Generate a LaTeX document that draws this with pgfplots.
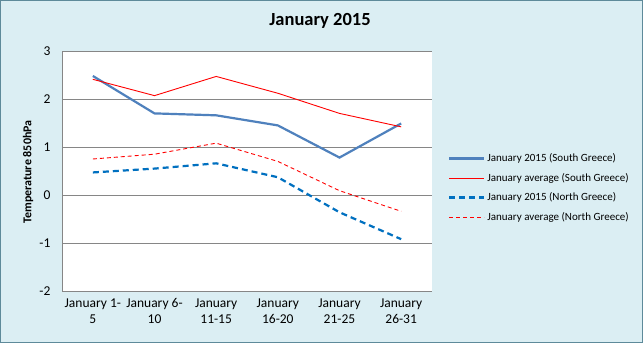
\documentclass[border=0pt]{standalone}
\usepackage{pgfplots}
\pgfplotsset{compat=1.18}
\usepackage{fontspec}
\setmainfont{Carlito}
\definecolor{bgc}{HTML}{DBEEF3}
\definecolor{framec}{HTML}{5E8A9A}
\definecolor{gridc}{HTML}{868686}
\definecolor{sblue}{HTML}{4F81BD}
\definecolor{dblue}{HTML}{0070C0}
\begin{document}
\begin{tikzpicture}
\useasboundingbox (0pt,0pt) rectangle (643pt,343pt);
\fill[bgc] (0pt,0pt) rectangle (643pt,343pt);
\draw[framec,line width=1.2pt] (0.6pt,0.6pt) rectangle (642.4pt,342.4pt);
\node[font=\bfseries\fontsize{18.5}{21}\selectfont] at (320pt,322pt) {January 2015};
\node[font=\bfseries\fontsize{12}{14}\selectfont,rotate=90] at (28pt,171pt) {Temperature 850hPa};
\begin{axis}[
  at={(62pt,52pt)}, anchor=south west,
  width=370pt, height=240pt, scale only axis,
  axis background/.style={fill=white},
  xmin=0, xmax=6, ymin=-2, ymax=3,
  xtick={0.5,1.5,2.5,3.5,4.5,5.5},
  xticklabels={{January 1-\\5},{January 6-\\10},{January\\11-15},{January\\16-20},{January\\21-25},{January\\26-31}},
  x tick label style={align=center, font=\fontsize{13.5}{16}\selectfont, yshift=-4pt},
  ytick={-2,-1,0,1,2,3},
  y tick label style={font=\fontsize{13.5}{15}\selectfont, xshift=-8pt},
  /pgf/number format/assume math mode=true,
  xtick style={draw=none}, ytick style={draw=none},
  xmajorgrids=false,
  ymajorgrids, major grid style={draw=gridc, line width=0.8pt},
  axis x line*=bottom, axis y line*=left,
  axis line style={draw=gridc, line width=0.8pt, -},
  legend style={at={(1.035,0.43)}, anchor=west, draw=none, fill=none,
    font=\fontsize{11}{13}\selectfont, row sep=6pt, cells={anchor=west}},
  legend cell align=left,
  legend image code/.code={\draw[#1] (0pt,0pt) -- (35pt,0pt);},
]
\addplot[sblue, line width=2.2pt, mark=none] coordinates {(0.5,2.48) (1.5,1.70) (2.5,1.66) (3.5,1.45) (4.5,0.78) (5.5,1.49)};
\addlegendentry{January 2015 (South Greece)}
\addplot[red, line width=0.9pt, mark=none] coordinates {(0.5,2.41) (1.5,2.07) (2.5,2.47) (3.5,2.12) (4.5,1.70) (5.5,1.42)};
\addlegendentry{January average (South Greece)}
\addplot[dblue, line width=2.2pt, dash pattern=on 6pt off 4pt, mark=none] coordinates {(0.5,0.47) (1.5,0.55) (2.5,0.66) (3.5,0.37) (4.5,-0.36) (5.5,-0.92)};
\addlegendentry{January 2015 (North Greece)}
\addplot[red, line width=0.9pt, dash pattern=on 4pt off 3pt, mark=none] coordinates {(0.5,0.75) (1.5,0.85) (2.5,1.08) (3.5,0.70) (4.5,0.09) (5.5,-0.34)};
\addlegendentry{January average (North Greece)}
\end{axis}
\end{tikzpicture}
\end{document}
